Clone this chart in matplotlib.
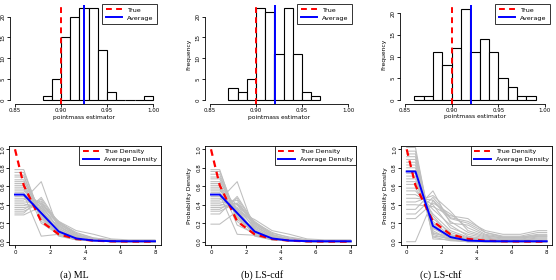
import matplotlib
matplotlib.use("Agg")
import matplotlib.pyplot as plt
from matplotlib.lines import Line2D

W, H = 556, 280
fig = plt.figure(figsize=(W / 100, H / 100), dpi=100)

# ---------------- data ----------------
true_value = 0.90
avg_values = [0.925, 0.921, 0.921]

ml_edges = [0.88, 0.89, 0.90, 0.91, 0.92, 0.93, 0.94, 0.95, 0.96, 0.97, 0.98, 0.99]
ml_counts = [1, 5, 15, 20, 22, 22, 12, 2, 0, 0, 0, 1]
cdf_edges = [0.87, 0.88, 0.89, 0.90, 0.91, 0.92, 0.93, 0.94, 0.95, 0.96]
cdf_counts = [3, 2, 5, 22, 21, 11, 22, 11, 2, 1]
chf_edges = [0.86, 0.87, 0.88, 0.89, 0.90, 0.91, 0.92, 0.93, 0.94, 0.95, 0.96, 0.97, 0.98]
chf_counts = [1, 1, 11, 8, 12, 21, 11, 14, 11, 5, 3, 1, 1]

hist_xticks = [0.85, 0.90, 0.95, 1.00]
hist_xticklabels = ["0.85", "0.90", "0.95", "1.00"]
hist_yticks = [0, 5, 10, 15, 20]

dens_x = [0, 0.5, 1.5, 2.5, 3.5, 4.5, 5.5, 6.5, 7.5, 8]
true_density = [1.0, 0.61, 0.22, 0.08, 0.03, 0.011, 0.004, 0.0015, 0.0006, 0.0003]
ml_avg = [0.51, 0.51, 0.31, 0.11, 0.035, 0.012, 0.006, 0.005, 0.005, 0.005]
cdf_avg = [0.51, 0.51, 0.31, 0.11, 0.035, 0.012, 0.006, 0.005, 0.005, 0.005]
chf_avg = [0.76, 0.76, 0.17, 0.05, 0.012, 0.006, 0.005, 0.005, 0.005, 0.005]

ml_sims = [
    [0.78, 0.78, 0.25, 0.06, 0.02, 0.01, 0.00, 0.00, 0.00, 0.00],
    [0.75, 0.75, 0.28, 0.08, 0.02, 0.01, 0.01, 0.00, 0.00, 0.00],
    [0.72, 0.72, 0.22, 0.10, 0.03, 0.01, 0.00, 0.00, 0.00, 0.00],
    [0.70, 0.70, 0.30, 0.07, 0.02, 0.01, 0.00, 0.00, 0.00, 0.00],
    [0.67, 0.67, 0.26, 0.09, 0.03, 0.01, 0.00, 0.00, 0.00, 0.00],
    [0.65, 0.65, 0.34, 0.12, 0.03, 0.01, 0.01, 0.00, 0.00, 0.00],
    [0.63, 0.63, 0.20, 0.08, 0.04, 0.02, 0.01, 0.00, 0.00, 0.00],
    [0.61, 0.61, 0.36, 0.10, 0.02, 0.01, 0.00, 0.00, 0.00, 0.00],
    [0.59, 0.59, 0.30, 0.14, 0.05, 0.02, 0.01, 0.00, 0.00, 0.00],
    [0.57, 0.57, 0.28, 0.12, 0.04, 0.01, 0.01, 0.00, 0.00, 0.00],
    [0.55, 0.55, 0.40, 0.13, 0.03, 0.01, 0.00, 0.00, 0.00, 0.00],
    [0.53, 0.53, 0.32, 0.11, 0.05, 0.02, 0.01, 0.01, 0.00, 0.00],
    [0.51, 0.51, 0.06, 0.08, 0.03, 0.01, 0.00, 0.00, 0.00, 0.00],
    [0.49, 0.49, 0.38, 0.15, 0.04, 0.02, 0.01, 0.00, 0.00, 0.00],
    [0.47, 0.47, 0.34, 0.16, 0.06, 0.02, 0.01, 0.01, 0.00, 0.00],
    [0.45, 0.45, 0.65, 0.12, 0.03, 0.01, 0.00, 0.00, 0.00, 0.00],
    [0.43, 0.43, 0.42, 0.18, 0.05, 0.02, 0.01, 0.00, 0.00, 0.00],
    [0.41, 0.41, 0.36, 0.20, 0.07, 0.03, 0.01, 0.01, 0.01, 0.01],
    [0.39, 0.39, 0.44, 0.17, 0.06, 0.02, 0.01, 0.00, 0.00, 0.00],
    [0.37, 0.37, 0.40, 0.22, 0.08, 0.03, 0.01, 0.01, 0.00, 0.00],
    [0.35, 0.35, 0.46, 0.19, 0.07, 0.03, 0.01, 0.01, 0.01, 0.01],
    [0.33, 0.33, 0.42, 0.21, 0.10, 0.04, 0.02, 0.01, 0.01, 0.01],
    [0.31, 0.31, 0.48, 0.20, 0.09, 0.04, 0.02, 0.01, 0.01, 0.01],
    [0.29, 0.29, 0.38, 0.22, 0.12, 0.08, 0.03, 0.02, 0.02, 0.02],
]
cdf_sims = [
    [0.78, 0.78, 0.22, 0.07, 0.02, 0.01, 0.00, 0.00, 0.00, 0.00],
    [0.76, 0.76, 0.27, 0.08, 0.02, 0.01, 0.01, 0.00, 0.00, 0.00],
    [0.73, 0.73, 0.24, 0.11, 0.03, 0.01, 0.00, 0.00, 0.00, 0.00],
    [0.70, 0.70, 0.30, 0.06, 0.02, 0.01, 0.00, 0.00, 0.00, 0.00],
    [0.68, 0.68, 0.26, 0.10, 0.03, 0.01, 0.00, 0.00, 0.00, 0.00],
    [0.65, 0.65, 0.33, 0.12, 0.03, 0.01, 0.01, 0.00, 0.00, 0.00],
    [0.63, 0.63, 0.18, 0.09, 0.04, 0.02, 0.01, 0.00, 0.00, 0.00],
    [0.61, 0.61, 0.35, 0.10, 0.02, 0.01, 0.00, 0.00, 0.00, 0.00],
    [0.59, 0.59, 0.29, 0.14, 0.05, 0.02, 0.01, 0.00, 0.00, 0.00],
    [0.57, 0.57, 0.27, 0.12, 0.04, 0.01, 0.01, 0.00, 0.00, 0.00],
    [0.55, 0.55, 0.40, 0.13, 0.03, 0.01, 0.00, 0.00, 0.00, 0.00],
    [0.53, 0.53, 0.31, 0.11, 0.05, 0.02, 0.01, 0.01, 0.00, 0.00],
    [0.51, 0.51, 0.08, 0.07, 0.03, 0.01, 0.00, 0.00, 0.00, 0.00],
    [0.49, 0.49, 0.37, 0.15, 0.04, 0.02, 0.01, 0.00, 0.00, 0.00],
    [0.47, 0.47, 0.34, 0.17, 0.06, 0.02, 0.01, 0.01, 0.00, 0.00],
    [0.45, 0.45, 0.65, 0.12, 0.03, 0.01, 0.00, 0.00, 0.00, 0.00],
    [0.43, 0.43, 0.41, 0.18, 0.05, 0.02, 0.01, 0.00, 0.00, 0.00],
    [0.41, 0.41, 0.36, 0.20, 0.07, 0.03, 0.01, 0.01, 0.01, 0.01],
    [0.39, 0.39, 0.45, 0.16, 0.06, 0.02, 0.01, 0.00, 0.00, 0.00],
    [0.37, 0.37, 0.40, 0.22, 0.08, 0.03, 0.01, 0.01, 0.00, 0.00],
    [0.35, 0.35, 0.47, 0.19, 0.07, 0.03, 0.01, 0.01, 0.01, 0.01],
    [0.33, 0.33, 0.42, 0.21, 0.10, 0.04, 0.02, 0.01, 0.01, 0.01],
    [0.30, 0.30, 0.49, 0.20, 0.09, 0.05, 0.02, 0.01, 0.01, 0.01],
    [0.19, 0.19, 0.33, 0.24, 0.12, 0.08, 0.03, 0.02, 0.02, 0.02],
]
chf_sims = [
    [1.02, 1.02, 0.05, 0.01, 0.00, 0.00, 0.00, 0.00, 0.00, 0.00],
    [0.98, 0.98, 0.08, 0.02, 0.01, 0.00, 0.00, 0.00, 0.00, 0.00],
    [0.95, 0.95, 0.03, 0.02, 0.00, 0.00, 0.00, 0.00, 0.00, 0.00],
    [0.92, 0.92, 0.10, 0.03, 0.01, 0.00, 0.00, 0.00, 0.00, 0.00],
    [0.89, 0.89, 0.12, 0.02, 0.00, 0.00, 0.00, 0.00, 0.00, 0.00],
    [0.86, 0.86, 0.06, 0.04, 0.01, 0.00, 0.00, 0.00, 0.00, 0.00],
    [0.83, 0.83, 0.15, 0.03, 0.00, 0.00, 0.00, 0.00, 0.00, 0.00],
    [0.80, 0.80, 0.18, 0.05, 0.02, 0.01, 0.00, 0.00, 0.00, 0.00],
    [0.77, 0.77, 0.09, 0.06, 0.03, 0.02, 0.01, 0.01, 0.01, 0.01],
    [0.74, 0.74, 0.20, 0.04, 0.01, 0.00, 0.00, 0.00, 0.00, 0.00],
    [0.71, 0.71, 0.14, 0.08, 0.03, 0.01, 0.00, 0.00, 0.00, 0.00],
    [0.68, 0.68, 0.22, 0.06, 0.02, 0.01, 0.00, 0.00, 0.00, 0.00],
    [0.65, 0.65, 0.25, 0.10, 0.04, 0.02, 0.01, 0.01, 0.01, 0.01],
    [0.62, 0.62, 0.28, 0.07, 0.03, 0.01, 0.00, 0.00, 0.00, 0.00],
    [0.58, 0.58, 0.30, 0.12, 0.05, 0.02, 0.02, 0.02, 0.03, 0.03],
    [0.55, 0.55, 0.35, 0.18, 0.06, 0.03, 0.02, 0.02, 0.02, 0.02],
    [0.51, 0.51, 0.40, 0.15, 0.08, 0.04, 0.02, 0.02, 0.04, 0.04],
    [0.47, 0.47, 0.45, 0.22, 0.10, 0.05, 0.03, 0.03, 0.05, 0.05],
    [0.43, 0.43, 0.50, 0.33, 0.12, 0.06, 0.04, 0.04, 0.06, 0.06],
    [0.40, 0.40, 0.38, 0.28, 0.25, 0.10, 0.06, 0.06, 0.10, 0.10],
    [0.35, 0.35, 0.55, 0.20, 0.18, 0.08, 0.05, 0.05, 0.08, 0.08],
    [0.30, 0.30, 0.48, 0.26, 0.22, 0.12, 0.08, 0.08, 0.12, 0.12],
    [0.25, 0.25, 0.42, 0.30, 0.15, 0.07, 0.04, 0.04, 0.06, 0.06],
    [0.00, 0.00, 0.45, 0.25, 0.20, 0.10, 0.05, 0.05, 0.07, 0.07],
]

dens_xticks = [0, 2, 4, 6, 8]
dens_yticks = [0.0, 0.2, 0.4, 0.6, 0.8, 1.0]
captions = ["(a) ML", "(b) LS-cdf", "(c) LS-chf"]

# ---------------- layout helpers ----------------
def px_axes(l, t, r, b):
    return fig.add_axes([l / W, 1 - b / H, (r - l) / W, (b - t) / H])

TICK_FS = 4
LAB_FS = 4.3
LEG_FS = 4.6
RED = "#ff0000"
BLUE = "#0000ff"
GRAY = "#bebebe"

hist_boxes = [(9.5, 4.5, 158.5, 104), (204.5, 4.5, 353.5, 104), (399.5, 5.3, 550.5, 103.7)]
hist_ylims = [(-0.88, 22.88), (-0.88, 22.88), (-0.84, 21.84)]
hist_legend_rt = [(157, 4), (352, 4), (550, 4)]
hist_data = [(ml_edges, ml_counts), (cdf_edges, cdf_counts), (chf_edges, chf_counts)]

for i in range(3):
    ax = px_axes(*hist_boxes[i])
    edges, counts = hist_data[i]
    ax.bar(edges, counts, width=0.01, align="edge", facecolor="white",
           edgecolor="black", linewidth=0.8, zorder=2)
    ax.set_xlim(0.844, 1.006)
    ax.set_ylim(*hist_ylims[i])
    ax.axvline(true_value, color=RED, lw=1.4, dashes=(3, 2.2), zorder=3)
    ax.axvline(avg_values[i], color=BLUE, lw=1.4, zorder=3)
    for s in ["top", "right"]:
        ax.spines[s].set_visible(False)
    ax.spines["left"].set_bounds(0, 20)
    ax.spines["bottom"].set_bounds(0.85, 1.00)
    for s in ["left", "bottom"]:
        ax.spines[s].set_linewidth(0.6)
    ax.set_xticks(hist_xticks)
    ax.set_xticklabels(hist_xticklabels)
    ax.set_yticks(hist_yticks)
    ax.tick_params(axis="both", labelsize=TICK_FS, length=2, width=0.6, pad=1)
    for lab in ax.get_yticklabels():
        lab.set_rotation(90)
        lab.set_va("center")
    ax.set_xlabel("pointmass estimator", fontsize=LAB_FS, labelpad=1)
    if i > 0:
        ax.set_ylabel("Frequency", fontsize=LAB_FS, labelpad=3)
    handles = [Line2D([], [], color=RED, lw=1.4, dashes=(3, 2.2)),
               Line2D([], [], color=BLUE, lw=1.4)]
    rx, ty = hist_legend_rt[i]
    leg = ax.legend(handles, ["True", "Average"], loc="upper right",
                    bbox_to_anchor=(rx / W, 1 - ty / H), bbox_transform=fig.transFigure,
                    fontsize=LEG_FS, frameon=True, fancybox=False, borderaxespad=0,
                    handlelength=2.6, handletextpad=0.8, borderpad=0.5, labelspacing=0.4)
    leg.get_frame().set_edgecolor("black")
    leg.get_frame().set_linewidth(0.7)

dens_boxes = [(9.4, 145.6, 160.6, 245.4), (205.4, 145.6, 356.3, 245.4), (401.1, 145.6, 552.3, 245.4)]
dens_legend_rt = [(160.6, 145.6), (356.3, 145.6), (552.3, 145.6)]
dens_sims = [ml_sims, cdf_sims, chf_sims]
dens_avgs = [ml_avg, cdf_avg, chf_avg]

for i in range(3):
    ax = px_axes(*dens_boxes[i])
    for row in dens_sims[i]:
        ax.plot(dens_x, row, color=GRAY, lw=0.75, zorder=1)
    ax.plot(dens_x, true_density, color=RED, lw=1.6, dashes=(3, 2.2), zorder=3)
    ax.plot(dens_x, dens_avgs[i], color=BLUE, lw=1.4, zorder=4)
    ax.set_xlim(-0.32, 8.32)
    ax.set_ylim(-0.04, 1.04)
    for s in ax.spines.values():
        s.set_linewidth(0.6)
    ax.set_xticks(dens_xticks)
    ax.set_yticks(dens_yticks)
    ax.set_yticklabels([f"{v:.1f}" for v in dens_yticks])
    ax.tick_params(axis="both", labelsize=TICK_FS, length=2, width=0.6, pad=1)
    for lab in ax.get_yticklabels():
        lab.set_rotation(90)
        lab.set_va("center")
    ax.set_xlabel("x", fontsize=LAB_FS, labelpad=1)
    if i > 0:
        ax.set_ylabel("Probability Density", fontsize=LAB_FS, labelpad=3)
    handles = [Line2D([], [], color=RED, lw=1.4, dashes=(3, 2.2)),
               Line2D([], [], color=BLUE, lw=1.4)]
    rx, ty = dens_legend_rt[i]
    leg = ax.legend(handles, ["True Density", "Average Density"], loc="upper right",
                    bbox_to_anchor=(rx / W, 1 - ty / H), bbox_transform=fig.transFigure,
                    fontsize=LEG_FS, frameon=True, fancybox=False, borderaxespad=0,
                    handlelength=2.6, handletextpad=0.8, borderpad=0.5, labelspacing=0.4)
    leg.get_frame().set_edgecolor("black")
    leg.get_frame().set_linewidth(0.7)

cap_x = [74, 262, 441]
for cx, cap in zip(cap_x, captions):
    fig.text(cx / W, 1 - 279.5 / H, cap, ha="center", va="bottom",
             fontsize=7.2, family="Liberation Serif")

fig.savefig("out.png", dpi=100)
